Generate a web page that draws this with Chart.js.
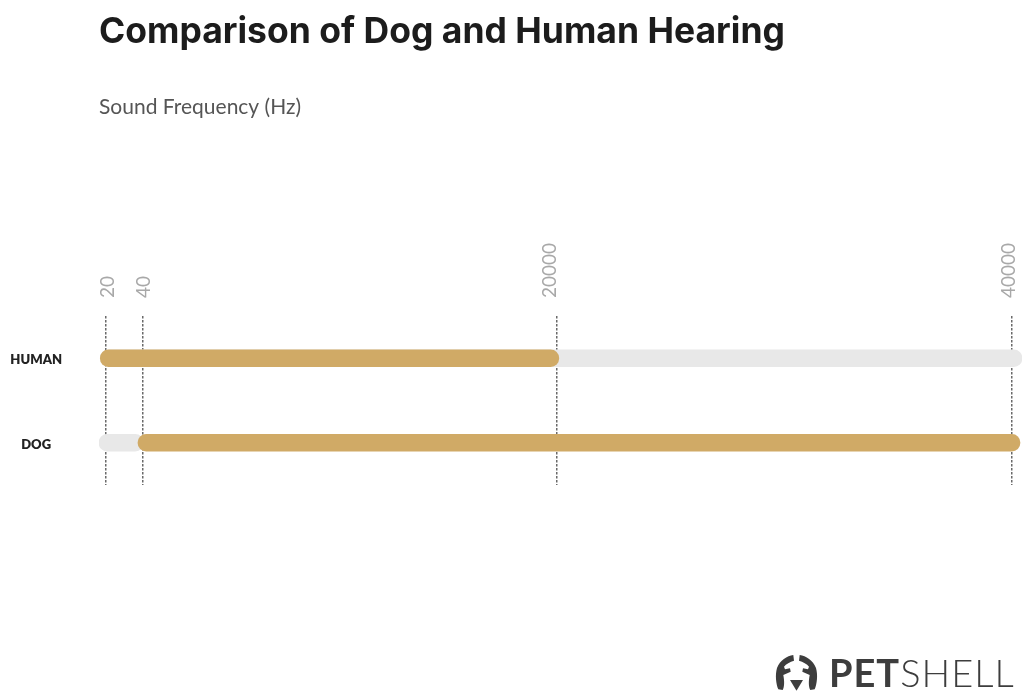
<!DOCTYPE html>
<html>
<head>
<meta charset="utf-8">
<title>Comparison of Dog and Human Hearing</title>
<script src="https://cdn.jsdelivr.net/npm/chart.js@4/dist/chart.umd.min.js"></script>
<style>
  html, body { margin: 0; padding: 0; background: #fff; }
  #wrap { position: relative; width: 1024px; height: 691px; overflow: hidden; }
  #logo { position: absolute; left: 774px; top: 654px; height: 37px; display: flex; align-items: center; color: #3d3d3d; }
  #logo span { font-family: Lato, sans-serif; font-size: 38px; letter-spacing: 1px; line-height: 37px; }
  #logo b { font-weight: 700; }
  #logo i { font-style: normal; font-weight: 300; }
</style>
</head>
<body>
<div id="wrap">
  <canvas id="hearingChart" width="1024" height="691"></canvas>
  <div id="logo">
    <svg width="46" height="37" viewBox="0 0 46 37" style="margin-right:9px">
      <g fill="#3d3d3d">
        <path d="M19.3 1 C13 2 6 6 3 14 C1 21 2 30 4.3 35.3 L8.7 36 C10.5 33 10.5 27 9.3 21 L16.7 17.7 L16 14.3 L11 15.3 L10 12.7 C12 10 16 8 20 6.7 Z"/>
        <path transform="translate(45 0) scale(-1 1)" d="M19.3 1 C13 2 6 6 3 14 C1 21 2 30 4.3 35.3 L8.7 36 C10.5 33 10.5 27 9.3 21 L16.7 17.7 L16 14.3 L11 15.3 L10 12.7 C12 10 16 8 20 6.7 Z"/>
        <path d="M16 26 L29 26 L22.5 36.7 Z"/>
      </g>
    </svg>
    <span><b>PET</b><i>SHELL</i></span>
  </div>
</div>
<script>
const categories = ["HUMAN", "DOG"];
const tickLabels = [20, 40, 20000, 40000];
const trackValues = [[16, 41000], [15, 60]];
const hearingValues = [[16, 20100], [37.3, 40800]];

// axis is not linear in the source, each stretch between ticks has its own width
const axisStops = [15, 20, 40, 20000, 40000, 41000];
const axisFractions = [0, 0.00704, 0.0477, 0.4957, 0.9892, 1];
// rotated labels sit a little off their tick lines
const tickLabelShift = [4, 3, -5, -1];

class HearingScale extends Chart.LinearScale {
  getPixelForValue(value) {
    let i = 0;
    while (i < axisStops.length - 2 && value > axisStops[i + 1]) i++;
    const t = (value - axisStops[i]) / (axisStops[i + 1] - axisStops[i]);
    const f = axisFractions[i] + t * (axisFractions[i + 1] - axisFractions[i]);
    return this.left + f * this.width;
  }
  _computeLabelItems(chartArea) {
    const items = super._computeLabelItems(chartArea);
    items.forEach(function (item, i) {
      item.options.translation[0] += tickLabelShift[i];
    });
    return items;
  }
}
HearingScale.id = "hearing";
HearingScale.defaults = Chart.LinearScale.defaults;
Chart.register(HearingScale);

const ctx = document.getElementById("hearingChart").getContext("2d");
new Chart(ctx, {
  type: "bar",
  data: {
    labels: categories,
    datasets: [
      {
        label: "Hearing range",
        data: hearingValues,
        backgroundColor: "#d0aa66",
        order: 1,
      },
      {
        label: "Full range",
        data: trackValues,
        backgroundColor: "#e8e8e8",
        order: 2,
      },
    ],
  },
  options: {
    indexAxis: "y",
    responsive: false,
    animation: false,
    grouped: false,
    barThickness: 17,
    borderRadius: 9,
    borderSkipped: false,
    layout: {
      padding: { top: 0, left: 0, right: 2, bottom: 206 },
    },
    plugins: {
      legend: { display: false },
      tooltip: { enabled: false },
      title: {
        display: true,
        text: "Comparison of Dog and Human Hearing",
        align: "start",
        fullSize: false,
        color: "#1c1c1c",
        font: { family: "Inter", size: 35.5, weight: "700", lineHeight: 1.25 },
        padding: { top: 10, bottom: 7 },
      },
    },
    scales: {
      x: {
        type: "hearing",
        position: "top",
        min: 15,
        max: 41000,
        grid: {
          color: "#6a6a6a",
          lineWidth: 1.5,
          drawTicks: false,
        },
        border: { display: false, dash: [2.5, 1.5] },
        title: {
          display: true,
          text: "Sound Frequency (Hz)",
          align: "start",
          color: "#555555",
          font: { family: "Lato", size: 21, lineHeight: 1.2 },
          padding: { top: 33, bottom: 0 },
        },
        afterBuildTicks: function (scale) {
          scale.ticks = tickLabels.map(function (v) {
            return { value: v };
          });
        },
        afterFit: function (scale) {
          scale.paddingRight = 0;
          scale.paddingLeft = 0;
          // chart.js caps a horizontal axis at half the canvas
          scale.height = 254.6;
        },
        ticks: {
          autoSkip: false,
          minRotation: 90,
          maxRotation: 90,
          padding: 18,
          labelOffset: 21,
          color: "#a8a8a8",
          font: { family: "Lato", size: 19 },
          callback: function (value) {
            return String(value);
          },
        },
      },
      y: {
        type: "category",
        grid: { display: false, drawTicks: false },
        border: { display: false },
        afterFit: function (scale) {
          scale.width = 99;
        },
        ticks: {
          crossAlign: "center",
          padding: 37,
          labelOffset: 2,
          color: "#222222",
          font: { family: "Lato", size: 13, weight: "800" },
        },
      },
    },
  },
});
</script>
</body>
</html>
